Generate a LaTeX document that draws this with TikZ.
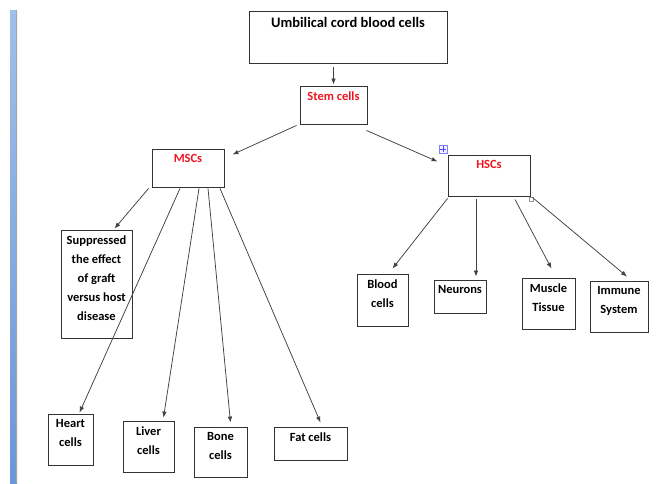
\documentclass[tikz,border=0pt]{standalone}
\usepackage{fontspec}
\setmainfont{Carlito}
\usetikzlibrary{arrows.meta}

\definecolor{barTop}{RGB}{160,192,234}
\definecolor{barBot}{RGB}{108,150,214}
\definecolor{stemRed}{RGB}{240,20,30}

\begin{document}
\begin{tikzpicture}[
    x=1pt, y=-1pt,
    cellbox/.style={
        rectangle, draw=black!80, line width=0.85pt, fill=white, inner sep=0pt
    },
    boxtext/.style={
        anchor=north, yshift=-5.5pt, inner sep=0pt, align=center,
        font=\fontsize{12.5}{19}\selectfont\bfseries
    },
    redtext/.style={boxtext, text=stemRed},
    arr/.style={-{Latex[length=6pt,width=4.5pt]}, draw=black!75, line width=0.75pt}
]
\useasboundingbox (0,0) rectangle (656,483);

% page margin bar
\shade[top color=barTop, bottom color=barBot] (10,10) rectangle (17,483);
\draw[black!35, line width=0.6pt] (16.7,10) -- (16.7,483);

% Top of the tree
\node[cellbox, minimum width=198pt, minimum height=52pt,
      label={[boxtext, yshift=-1pt, font=\fontsize{14.5}{17}\selectfont\bfseries]north:Umbilical cord blood cells}]
      (ucb) at (348,37) {};
\node[cellbox, minimum width=67pt, minimum height=38pt,
      label={[redtext]north:Stem cells}] (stem) at (333.5,105) {};

% Two stem cell types
\node[cellbox, minimum width=72pt, minimum height=38pt,
      label={[redtext]north:MSCs}] (msc) at (188,168) {};
\node[cellbox, minimum width=82pt, minimum height=41pt,
      label={[redtext]north:HSCs}] (hsc) at (489,175.5) {};

% MSC outcomes
\node[cellbox, minimum width=71pt, minimum height=108pt,
      label={[boxtext]north:Suppressed\\the effect\\of graft\\versus host\\disease}]
      (supp) at (96.5,284) {};
\node[cellbox, minimum width=45pt, minimum height=51pt,
      label={[boxtext]north:Heart\\cells}] (heart) at (70.5,439.5) {};
\node[cellbox, minimum width=51pt, minimum height=51pt,
      label={[boxtext]north:Liver\\cells}] (liver) at (148.5,446.5) {};
\node[cellbox, minimum width=53pt, minimum height=50pt,
      label={[boxtext]north:Bone\\cells}] (bone) at (220.5,452) {};
\node[cellbox, minimum width=73pt, minimum height=33pt,
      label={[boxtext]north:Fat cells}] (fat) at (310.5,443.5) {};

% HSC outcomes
\node[cellbox, minimum width=51pt, minimum height=52pt,
      label={[boxtext]north:Blood\\cells}] (blood) at (382.5,300) {};
\node[cellbox, minimum width=52pt, minimum height=33pt,
      label={[boxtext]north:Neurons}] (neurons) at (460,296.5) {};
\node[cellbox, minimum width=53pt, minimum height=51pt,
      label={[boxtext]north:Muscle\\Tissue}] (muscle) at (548.5,303.5) {};
\node[cellbox, minimum width=58pt, minimum height=51pt,
      label={[boxtext]north:Immune\\System}] (immune) at (619,306.5) {};

% selection handles
\node[draw=blue!50, fill=blue!6, line width=0.4pt, minimum size=8pt, inner sep=0pt]
      (handle) at (443,149) {};
\draw[blue!70, line width=0.6pt] ([yshift=-1.5pt]handle.north) -- ([yshift=1.5pt]handle.south)
      ([xshift=1.5pt]handle.west) -- ([xshift=-1.5pt]handle.east);
\node[draw=black!40, fill=white, line width=0.4pt, minimum size=4pt, inner sep=0pt]
      (corner) at (531.5,199) {};

% Arrows
\draw[arr] ([yshift=-4pt]stem.north |- ucb.south) -- ([yshift=1pt]stem.north);
\draw[arr] ([xshift=-3pt,yshift=-1pt]stem.south west) -- ([xshift=8pt,yshift=-6pt]msc.north east);
\draw[arr] ([xshift=-1pt,yshift=-6pt]stem.south east) -- ([xshift=-10pt,yshift=-7pt]hsc.north west);

\draw[arr] ([xshift=-3pt,yshift=-1pt]msc.south west) -- ([xshift=18pt,yshift=1pt]supp.north);
\draw[arr] ([xshift=-8pt,yshift=-1pt]msc.south) -- ([xshift=9pt,yshift=1pt]heart.north);
\draw[arr] ([xshift=11pt,yshift=-1pt]msc.south) -- ([xshift=15pt,yshift=3pt]liver.north);
\draw[arr] ([xshift=20pt,yshift=-1pt]msc.south) -- ([xshift=10pt,yshift=4pt]bone.north);
\draw[arr] ([xshift=32pt,yshift=-1pt]msc.south) -- ([xshift=10pt,yshift=4pt]fat.north);

\draw[arr] ([yshift=-2pt]hsc.south west) -- ([xshift=10pt,yshift=5pt]blood.north);
\draw[arr] ([xshift=-13pt,yshift=-3pt]hsc.south) -- ([xshift=16pt,yshift=3pt]neurons.north);
\draw[arr] ([xshift=26pt,yshift=-3pt]hsc.south) -- ([xshift=3pt,yshift=9pt]muscle.north);
\draw[arr] ([xshift=2pt,yshift=-1pt]hsc.south east) -- ([xshift=8pt,yshift=4pt]immune.north);

\end{tikzpicture}
\end{document}
